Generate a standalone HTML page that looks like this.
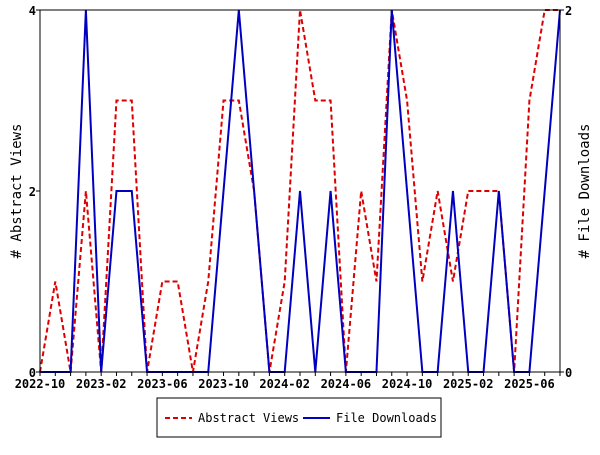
<!DOCTYPE html>
<html><head><meta charset="utf-8"><style>
body{margin:0;background:#fff}
svg text{font-family:"DejaVu Sans Mono","Liberation Mono",monospace;font-size:12px;fill:#000}
svg text.tick{font-weight:bold}
</style></head><body>
<svg id="chart" width="600" height="450" xmlns="http://www.w3.org/2000/svg">
<g id="grid"></g>
<g id="series"></g>
<rect x="40" y="10" width="520" height="362" fill="none" stroke="#000" stroke-width="1"/>
<g id="axes"></g>
<text transform="translate(21,191) rotate(-90)" text-anchor="middle" style="font-size:14px"># Abstract Views</text>
<text transform="translate(589,191) rotate(-90)" text-anchor="middle" style="font-size:14px"># File Downloads</text>
<g>
<rect x="157" y="398" width="284" height="39" fill="#fff" stroke="#000"/>
<line x1="165" y1="418" x2="192" y2="418" stroke="#d00" stroke-width="2" stroke-dasharray="5,3"/>
<text x="198" y="422">Abstract Views</text>
<line x1="303" y1="418" x2="330" y2="418" stroke="#0000c0" stroke-width="2"/>
<text x="336" y="422">File Downloads</text>
</g>
</svg>
<script>
const months = ["2022-10","2022-11","2022-12","2023-01","2023-02","2023-03","2023-04","2023-05","2023-06","2023-07","2023-08","2023-09","2023-10","2023-11","2023-12","2024-01","2024-02","2024-03","2024-04","2024-05","2024-06","2024-07","2024-08","2024-09","2024-10","2024-11","2024-12","2025-01","2025-02","2025-03","2025-04","2025-05","2025-06","2025-07","2025-08"];
const abstractViews = [0,1,0,2,0,3,3,0,1,1,0,1,3,3,2,0,1,4,3,3,0,2,1,4,3,1,2,1,2,2,2,0,3,4,4];
const fileDownloads = [0,0,0,2,0,1,1,0,0,0,0,0,1,2,1,0,0,1,0,1,0,0,0,2,1,0,0,1,0,0,1,0,0,1,2];
const xTickLabels = ["2022-10","2023-02","2023-06","2023-10","2024-02","2024-06","2024-10","2025-02","2025-06"];
const leftTicks = [0,2,4];
const rightTicks = [0,2];

const X0=40,X1=560,Y0=372,Y1=10,NS="http://www.w3.org/2000/svg";
const x=i=>X0+i*(X1-X0)/(months.length-1);
const yL=v=>Y0-v*(Y0-Y1)/4;
const yR=v=>Y0-v*(Y0-Y1)/2;
const axes=document.getElementById('axes'), ser=document.getElementById('series');
function mk(tag,attrs,parent){const e=document.createElementNS(NS,tag);for(const k in attrs)e.setAttribute(k,attrs[k]);parent.appendChild(e);return e;}

months.forEach((m,i)=>{
  const t=mk('line',{x1:x(i),x2:x(i),y1:Y0,y2:Y0+4,stroke:'#000'},axes);
  
  
});
xTickLabels.forEach(l=>{
  const i=months.indexOf(l);
  const t=mk('text',{x:x(i),y:Y0+16,'text-anchor':'middle',class:'tick'},axes);
  t.textContent=l;
  
  
});
leftTicks.forEach(v=>{
  const l=mk('line',{x1:X0-4,x2:X0,y1:yL(v),y2:yL(v),stroke:'#000'},axes);
  
  
  const t=mk('text',{x:X0-4,y:yL(v)+5,'text-anchor':'end',class:'tick'},axes);
  t.textContent=v;
  
  
});
rightTicks.forEach(v=>{
  const l=mk('line',{x1:X1,x2:X1+4,y1:yR(v),y2:yR(v),stroke:'#000'},axes);
  
  
  const t=mk('text',{x:X1+5,y:yR(v)+5,'text-anchor':'start',class:'tick'},axes);
  t.textContent=v;
  
  
});
const pa=mk('polyline',{points:abstractViews.map((v,i)=>x(i)+','+yL(v)).join(' '),fill:'none',stroke:'#d00','stroke-width':2,'stroke-dasharray':'5,3'},ser);


const pd=mk('polyline',{points:fileDownloads.map((v,i)=>x(i)+','+yR(v)).join(' '),fill:'none',stroke:'#0000c0','stroke-width':2},ser);


</script>
</body></html>
